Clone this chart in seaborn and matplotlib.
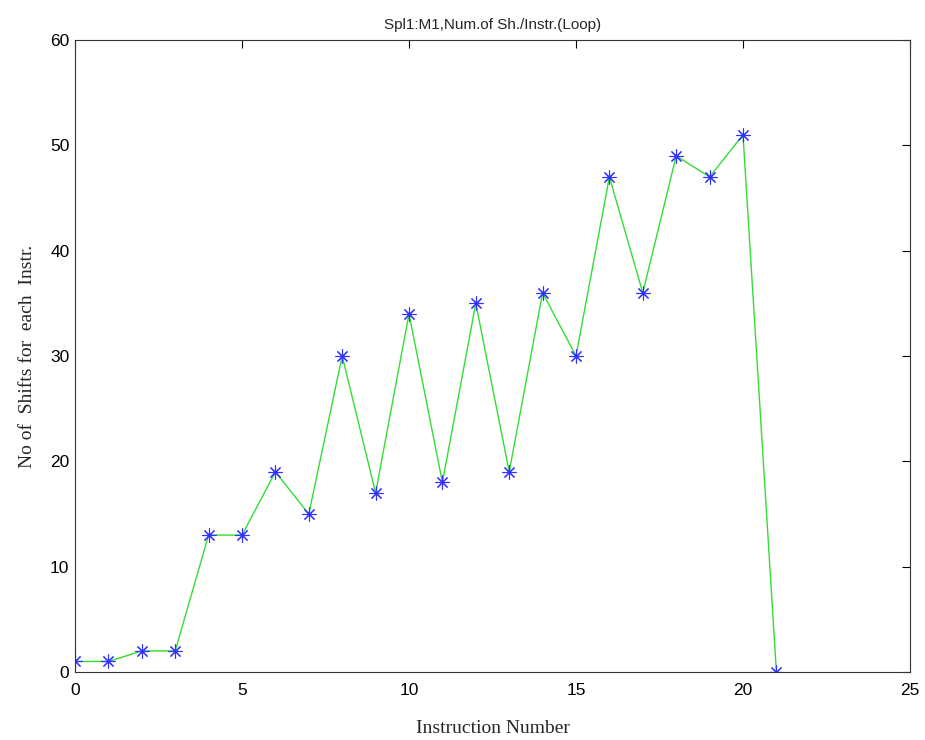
import matplotlib
matplotlib.use("Agg")
import matplotlib.pyplot as plt
import seaborn as sns
import pandas as pd

# Shifts per instruction for the loop
instruction = list(range(22))
shifts = [1, 1, 2, 2, 13, 13, 19, 15, 30, 17, 34, 18, 35, 19, 36, 30, 47, 36, 49, 47, 51, 0]
x_ticks = [0, 5, 10, 15, 20, 25]
y_ticks = [0, 10, 20, 30, 40, 50, 60]

df = pd.DataFrame({"instruction": instruction, "shifts": shifts})

sns.set_style("white")
plt.rcParams["font.family"] = ["Liberation Sans", "DejaVu Sans"]

fig = plt.figure(figsize=(9.25, 7.4), dpi=100)
ax = fig.add_axes([75 / 925, 1 - 672 / 740, (910 - 75) / 925, (672 - 40) / 740])

sns.lineplot(data=df, x="instruction", y="shifts", ax=ax, color="#33dd33",
             linewidth=1.0, marker=(8, 2, 0), markersize=10,
             markeredgecolor="#3030ff", markerfacecolor="#3030ff",
             markeredgewidth=0.8)

ax.set_xlim(0, 25)
ax.set_ylim(0, 60)
ax.set_xticks(x_ticks)
ax.set_yticks(y_ticks)
ax.tick_params(direction="in", length=6, width=0.8, labelsize=12.5,
               top=True, right=True, colors="black", pad=4)
ax.tick_params(axis="x", pad=8)
for s in ax.spines.values():
    s.set_color("#333333")
    s.set_linewidth(0.8)

ax.set_title("Spl1:M1,Num.of Sh./Instr.(Loop)", fontsize=11, pad=8)
ax.set_xlabel("Instruction Number", fontsize=14, family=["Liberation Serif"], labelpad=16)
ax.set_ylabel("No of  Shifts for  each  Instr.", fontsize=14, family=["Liberation Serif"], labelpad=10)

fig.savefig("out.png", dpi=100, facecolor="white")
